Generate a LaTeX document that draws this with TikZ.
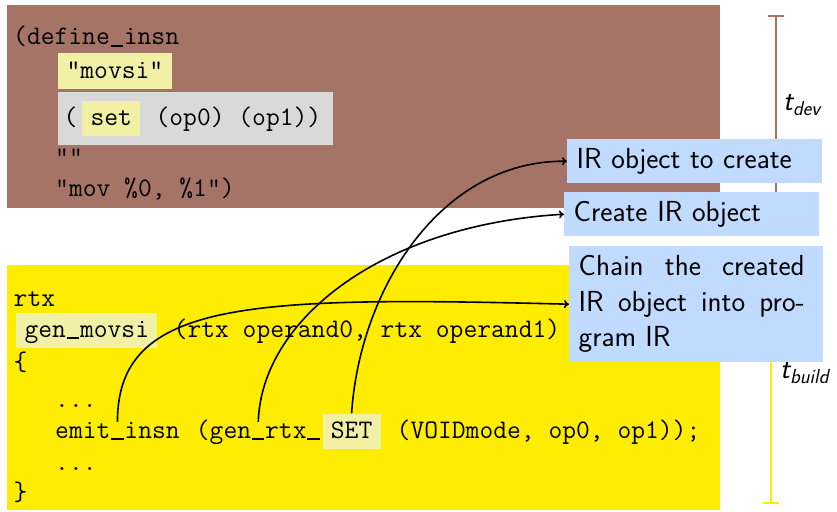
\documentclass[tikz,border=0pt]{standalone}
\usepackage{fontspec}
\usetikzlibrary{arrows.meta}
\definecolor{devbrown}{RGB}{166,116,102}
\definecolor{buildyellow}{RGB}{255,237,0}
\definecolor{hilite}{RGB}{241,240,165}
\definecolor{patgrey}{RGB}{217,217,217}
\definecolor{noteblue}{RGB}{192,219,255}
% a bolder typewriter underscore, one character cell wide
\newcommand\us{\makebox[0.525em][c]{\rule[-0.08em]{0.46em}{0.075em}}}

\begin{document}
\begin{tikzpicture}[x=1pt,y=-1pt,
  area/.style={anchor=north west, inner sep=0, outer sep=0},
  code/.style={anchor=base west, inner sep=0, text height=16, text depth=4,
    font=\ttfamily\fontsize{26.8}{32}\selectfont},
  hl/.style={code, fill=hilite, inner xsep=8.4, inner ysep=7.5, text height=17, text depth=3},
  note/.style={anchor=north west, fill=noteblue, inner xsep=9.5, inner ysep=0,
    font=\sffamily\fontsize{29}{35.5}\selectfont},
  span/.style={line width=2, {Bar[width=16]}-{Bar[width=16]}},
  spanlabel/.style={anchor=base west, inner sep=0, font=\sffamily\itshape\fontsize{29}{35}\selectfont},
  conn/.style={line width=1.6, -{To[length=5,width=8]}}
]
\useasboundingbox (0,0) rectangle (837,511);

% development-time area: the machine description
\node[area, fill=devbrown, minimum width=713, minimum height=203] (devarea) at (7,5) {};
\node[code] (defl) at (13,45) {(define\us insn};
\node[hl] (movsi) at (58,78) {"movsi"};
\node[area, fill=patgrey, minimum width=275, minimum height=53] (pat) at (58,92) {};
\node[code] (lpar) at (63.4,125) {(};
\node[hl] (set) at (82,125) {set};
\node[code] (ops) at (155.4,125) {(op0) (op1))};
\node[code] (cond) at (55,165) {""};
\node[code] (tmpl) at (55,196) {"mov \%0, \%1")};

% build-time area: the generated C code
\node[area, fill=buildyellow, minimum width=713, minimum height=245] (buildarea) at (7,265) {};
\node[code] (rtx) at (13.5,306) {rtx};
\node[hl] (genmovsi) at (16,337) {gen\us movsi};
\node[code] (params) at (173.5,337) {(rtx operand0, rtx operand1)};
\node[code] (lbrace) at (13.5,370) {\{};
\node[code] (dotsa) at (55,407) {...};
\node[code] (emit) at (55,438) {emit\us insn};
\node[code] (genrtx) at (195.7,438) {(gen\us rtx\us};
\node[hl] (SET) at (322.3,438) {SET};
\node[code] (args) at (396.5,438) {(VOIDmode, op0, op1));};
\node[code] (dotsb) at (55,470) {...};
\node[code] (rbrace) at (13.5,500) {\}};

% time spans
\coordinate (devtop) at (776,15);
\coordinate (devbot) at (776,208);
\coordinate (buildtop) at (771,265);
\coordinate (buildbot) at (771,504);
\draw[span, devbrown] (devtop) -- (devbot);
\draw[span, buildyellow] (buildtop) -- (buildbot);
\node[spanlabel] (tdev) at (783,110) {t\textsubscript{dev}};
\node[spanlabel] (tbuild) at (780,378) {t\textsubscript{build}};

% explanations
\node[note, align=left, text width=236, minimum height=44] (n1) at (567,139) {IR object to create};
\node[note, align=left, text width=236, minimum height=44] (n2) at (564,192) {Create IR object};
\node[note, align=justify, text width=235, minimum height=116] (n3) at (569,246)
  {\parbox{226pt}{Chain the created\linebreak IR object into pro-\linebreak gram IR}};

% connectors
\draw[conn] (emit.north) .. controls +(0,-122) and +(-319,-8) .. (n3.west);
\draw[conn] (genrtx.north) .. controls +(3,-101) and +(-184,11) .. (n2.west);
\draw[conn] (SET.north) .. controls +(8,-123) and +(-127,-1) .. (n1.west);
\end{tikzpicture}
\end{document}
